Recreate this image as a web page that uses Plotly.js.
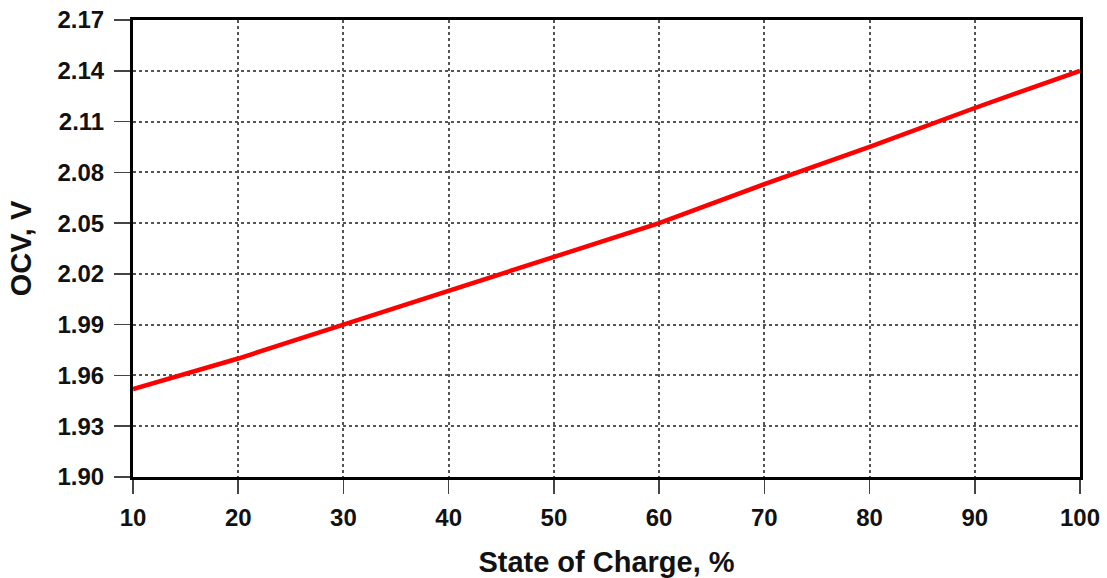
<!DOCTYPE html>
<html>
<head>
<meta charset="utf-8">
<script src="https://cdn.plot.ly/plotly-3.0.1.min.js"></script>
<style>html,body{margin:0;padding:0;background:#fff;}#chart{width:1107px;height:578px;}</style>
</head>
<body>
<div id="chart"></div>
<script>
const soc = [10, 20, 30, 40, 50, 60, 70, 80, 90, 100];
const ocv = [1.952, 1.970, 1.990, 2.010, 2.030, 2.050, 2.073, 2.095, 2.118, 2.140];
const yTicks = [1.90, 1.93, 1.96, 1.99, 2.02, 2.05, 2.08, 2.11, 2.14, 2.17];
const xTicks = [10, 20, 30, 40, 50, 60, 70, 80, 90, 100];

const fontFam = 'Liberation Sans, Arial, sans-serif';
const trace = {
  x: soc, y: ocv, type: 'scatter', mode: 'lines',
  line: {color: '#ff0000', width: 4.5},
  hoverinfo: 'skip'
};
const layout = {
  width: 1107, height: 578,
  margin: {l: 133, r: 27, t: 20, b: 101},
  paper_bgcolor: '#fff', plot_bgcolor: '#fff',
  showlegend: false,
  xaxis: {
    range: [10, 100], tickvals: xTicks, ticktext: xTicks.map(String),
    showgrid: true, gridcolor: '#555', gridwidth: 2, griddash: 'dot',
    showline: true, linecolor: '#000', linewidth: 3, mirror: true,
    ticks: 'outside', ticklen: 14, tickwidth: 1.5, tickcolor: '#444',
    ticklabelstandoff: 3,
    tickfont: {family: fontFam, size: 24, color: '#111', weight: 'bold'},
    zeroline: false,
    title: {text: 'State of Charge, %', font: {family: fontFam, size: 29, color: '#111', weight: 'bold'}, standoff: 26}
  },
  yaxis: {
    range: [1.90, 2.17], tickvals: yTicks, ticktext: yTicks.map(v => v.toFixed(2)),
    showgrid: true, gridcolor: '#555', gridwidth: 2, griddash: 'dot',
    showline: true, linecolor: '#000', linewidth: 3, mirror: true,
    ticks: 'outside', ticklen: 16, tickwidth: 1.5, tickcolor: '#444',
    ticklabelstandoff: 5,
    tickfont: {family: fontFam, size: 24, color: '#111', weight: 'bold'},
    zeroline: false,
    title: {text: 'OCV, V', font: {family: fontFam, size: 29, color: '#111', weight: 'bold'}, standoff: 18}
  }
};
Plotly.newPlot('chart', [trace], layout, {displayModeBar: false, staticPlot: true});
</script>
</body>
</html>
